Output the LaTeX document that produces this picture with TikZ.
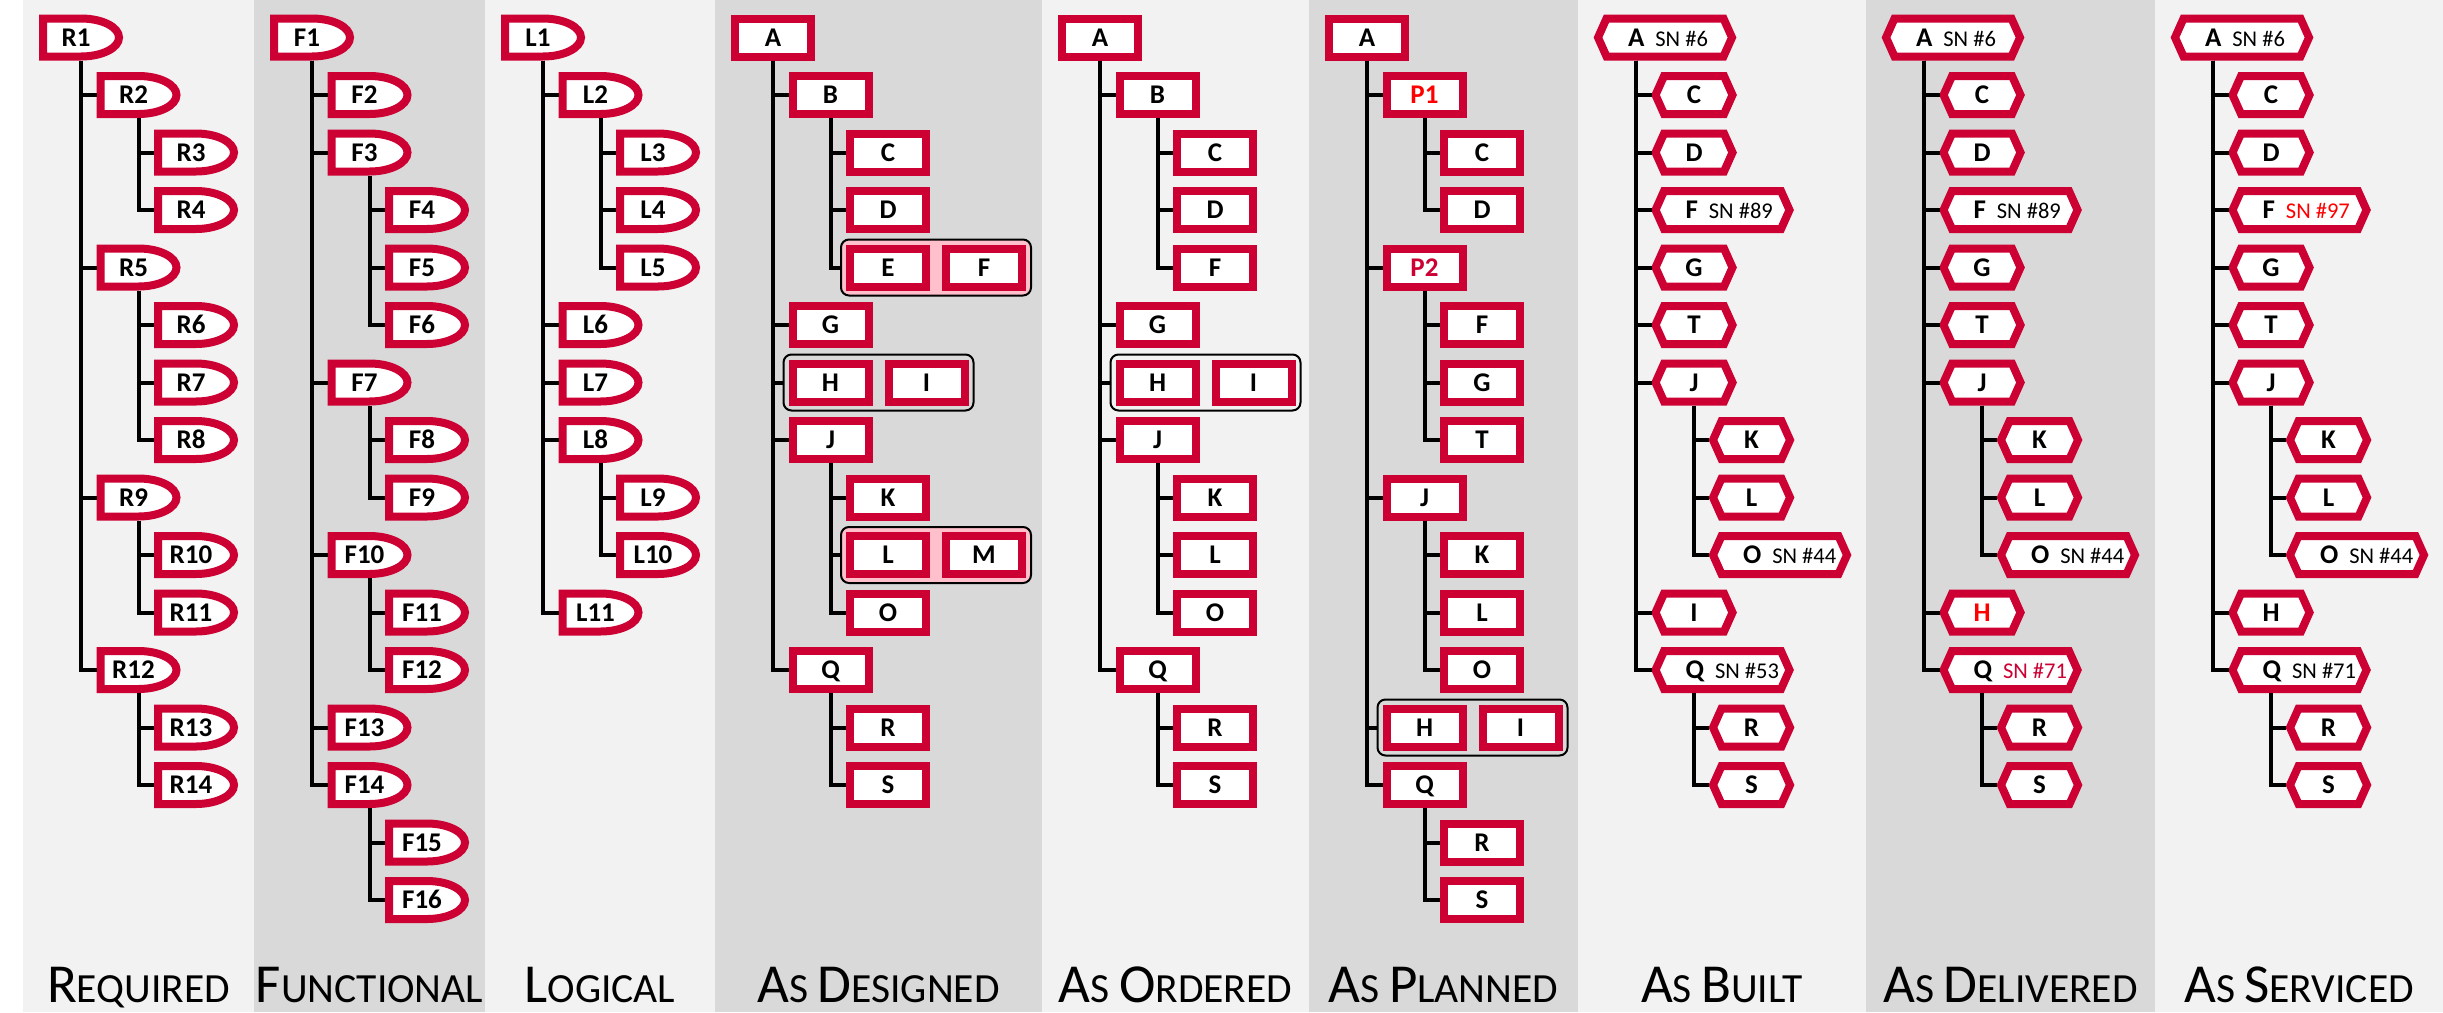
\documentclass[tikz,border=0pt]{standalone}
\usepackage{fontspec}
\setmainfont{Carlito}
\usetikzlibrary{fit,backgrounds}
\definecolor{crimson}{RGB}{204, 0, 51}
\definecolor{scarlet}{RGB}{255, 0, 0}
\definecolor{blush}{RGB}{255, 192, 203}
\definecolor{cloud}{RGB}{242, 242, 242}
\definecolor{smoke}{RGB}{217, 217, 217}

\makeatletter
% box with a flat left side and a half-oval right side
\pgfdeclareshape{halfoval}{%
  \inheritsavedanchors[from=rectangle]%
  \inheritanchorborder[from=rectangle]%
  \inheritanchor[from=rectangle]{center}%
  \inheritanchor[from=rectangle]{north}%
  \inheritanchor[from=rectangle]{south}%
  \inheritanchor[from=rectangle]{west}%
  \inheritanchor[from=rectangle]{east}%
  \inheritanchor[from=rectangle]{north west}%
  \inheritanchor[from=rectangle]{south west}%
  \inheritanchor[from=rectangle]{north east}%
  \inheritanchor[from=rectangle]{south east}%
  \inheritanchor[from=rectangle]{base}%
  \inheritanchor[from=rectangle]{mid}%
  \backgroundpath{%
    \southwest \pgf@xa=\pgf@x \pgf@ya=\pgf@y
    \northeast \pgf@xb=\pgf@x \pgf@yb=\pgf@y
    \pgfmathsetlength\pgf@xc{\pgfkeysvalueof{/pgf/outer xsep}}%
    \pgfmathsetlength\pgf@yc{\pgfkeysvalueof{/pgf/outer ysep}}%
    \advance\pgf@xa by\pgf@xc \advance\pgf@xb by-\pgf@xc
    \advance\pgf@ya by\pgf@yc \advance\pgf@yb by-\pgf@yc
    \edef\ovxa{\the\pgf@xa}\edef\ovya{\the\pgf@ya}\edef\ovyb{\the\pgf@yb}%
    \pgf@xc=.5\pgf@xb \advance\pgf@xc by .5\pgf@xa \edef\ovxm{\the\pgf@xc}%
    \pgf@xc=.5\pgf@xb \advance\pgf@xc by -.5\pgf@xa \edef\ovrx{\the\pgf@xc}%
    \pgf@yc=.5\pgf@yb \advance\pgf@yc by -.5\pgf@ya \edef\ovry{\the\pgf@yc}%
    \pgfpathmoveto{\pgfqpoint{\ovxa}{\ovya}}%
    \pgfpathlineto{\pgfqpoint{\ovxa}{\ovyb}}%
    \pgfpathlineto{\pgfqpoint{\ovxm}{\ovyb}}%
    \pgfpatharc{90}{-90}{\ovrx and \ovry}%
    \pgfpathclose
  }%
}
% box with pointed left and right ends
\pgfdeclareshape{sixside}{%
  \inheritsavedanchors[from=rectangle]%
  \inheritanchorborder[from=rectangle]%
  \inheritanchor[from=rectangle]{center}%
  \inheritanchor[from=rectangle]{north}%
  \inheritanchor[from=rectangle]{south}%
  \inheritanchor[from=rectangle]{west}%
  \inheritanchor[from=rectangle]{east}%
  \inheritanchor[from=rectangle]{north west}%
  \inheritanchor[from=rectangle]{south west}%
  \inheritanchor[from=rectangle]{north east}%
  \inheritanchor[from=rectangle]{south east}%
  \inheritanchor[from=rectangle]{base}%
  \inheritanchor[from=rectangle]{mid}%
  \backgroundpath{%
    \southwest \pgf@xa=\pgf@x \pgf@ya=\pgf@y
    \northeast \pgf@xb=\pgf@x \pgf@yb=\pgf@y
    \pgfmathsetlength\pgf@xc{\pgfkeysvalueof{/pgf/outer xsep}}%
    \pgfmathsetlength\pgf@yc{\pgfkeysvalueof{/pgf/outer ysep}}%
    \advance\pgf@xa by\pgf@xc \advance\pgf@xb by-\pgf@xc
    \advance\pgf@ya by\pgf@yc \advance\pgf@yb by-\pgf@yc
    \pgf@yc=.5\pgf@ya \advance\pgf@yc by .5\pgf@yb
    \edef\hxa{\the\pgf@xa}\edef\hxb{\the\pgf@xb}%
    \edef\hya{\the\pgf@ya}\edef\hyb{\the\pgf@yb}\edef\hym{\the\pgf@yc}%
    \advance\pgf@xa by 8.5pt \advance\pgf@xb by -8.5pt
    \edef\hxc{\the\pgf@xa}\edef\hxd{\the\pgf@xb}%
    \pgfpathmoveto{\pgfqpoint{\hxa}{\hym}}%
    \pgfpathlineto{\pgfqpoint{\hxc}{\hyb}}%
    \pgfpathlineto{\pgfqpoint{\hxd}{\hyb}}%
    \pgfpathlineto{\pgfqpoint{\hxb}{\hym}}%
    \pgfpathlineto{\pgfqpoint{\hxd}{\hya}}%
    \pgfpathlineto{\pgfqpoint{\hxc}{\hya}}%
    \pgfpathclose
  }%
}
\makeatother

\newcommand{\pdmfont}{\fontsize{27}{32}\selectfont\bfseries}
\newcommand{\capit}[1]{{\fontsize{55}{62}\selectfont #1}}
\newcommand{\serial}[3][black]{\makebox[74pt][l]{#2\hspace{11pt}{\fontsize{22.5}{26}\selectfont\mdseries\textcolor{#1}{SN \##3}}}}

\tikzset{
  block/.style={draw=crimson, fill=white, line width=8pt, outer sep=4pt, minimum width=76pt,
                minimum height=38pt, inner sep=0pt, text height=17pt, text depth=0pt,
                font=\pdmfont, anchor=west},
  tag/.style={block, shape=halfoval, execute at end node={\hspace{10pt}}},
  part/.style={block, shape=rectangle},
  unit/.style={block, shape=sixside, minimum width=77pt},
  tracked/.style={unit, minimum width=134pt},
  kit/.style={draw=black, line width=2pt, rounded corners=8pt, inner sep=5pt},
  wire/.style={line width=4pt},
  view/.style={anchor=base, inner sep=0pt, font=\fontsize{41.5}{50}\selectfont}
}

\begin{document}
\begin{tikzpicture}[x=1pt, y=-1pt]
  \useasboundingbox (0,0) rectangle (2443,1012);

  % required
  \node[tag] (r1)  at (39,37.5)    {R1};
  \node[tag] (r2)  at (96.5,95)    {R2};
  \node[tag] (r3)  at (154,152.5)  {R3};
  \node[tag] (r4)  at (154,210)    {R4};
  \node[tag] (r5)  at (96.5,267.5) {R5};
  \node[tag] (r6)  at (154,325)    {R6};
  \node[tag] (r7)  at (154,382.5)  {R7};
  \node[tag] (r8)  at (154,440)    {R8};
  \node[tag] (r9)  at (96.5,497.5) {R9};
  \node[tag] (r10) at (154,555)    {R10};
  \node[tag] (r11) at (154,612.5)  {R11};
  \node[tag] (r12) at (96.5,670)   {R12};
  \node[tag] (r13) at (154,727.5)  {R13};
  \node[tag] (r14) at (154,785)    {R14};

  % functional
  \node[tag] (f1)  at (270,37.5)    {F1};
  \node[tag] (f2)  at (327.5,95)    {F2};
  \node[tag] (f3)  at (327.5,152.5) {F3};
  \node[tag] (f4)  at (385,210)     {F4};
  \node[tag] (f5)  at (385,267.5)   {F5};
  \node[tag] (f6)  at (385,325)     {F6};
  \node[tag] (f7)  at (327.5,382.5) {F7};
  \node[tag] (f8)  at (385,440)     {F8};
  \node[tag] (f9)  at (385,497.5)   {F9};
  \node[tag] (f10) at (327.5,555)   {F10};
  \node[tag] (f11) at (385,612.5)   {F11};
  \node[tag] (f12) at (385,670)     {F12};
  \node[tag] (f13) at (327.5,727.5) {F13};
  \node[tag] (f14) at (327.5,785)   {F14};
  \node[tag] (f15) at (385,842.5)   {F15};
  \node[tag] (f16) at (385,900)     {F16};

  % logical
  \node[tag] (l1)  at (501,37.5)    {L1};
  \node[tag] (l2)  at (558.5,95)    {L2};
  \node[tag] (l3)  at (616,152.5)   {L3};
  \node[tag] (l4)  at (616,210)     {L4};
  \node[tag] (l5)  at (616,267.5)   {L5};
  \node[tag] (l6)  at (558.5,325)   {L6};
  \node[tag] (l7)  at (558.5,382.5) {L7};
  \node[tag] (l8)  at (558.5,440)   {L8};
  \node[tag] (l9)  at (616,497.5)   {L9};
  \node[tag] (l10) at (616,555)     {L10};
  \node[tag] (l11) at (558.5,612.5) {L11};

  % as designed
  \node[part] (dA) at (731,37.5)    {A};
  \node[part] (dB) at (788.5,95)    {B};
  \node[part] (dC) at (846,152.5)   {C};
  \node[part] (dD) at (846,210)     {D};
  \node[part] (dE) at (846,267.5)   {E};
  \node[part] (dF) at (942,267.5)   {F};
  \node[part] (dG) at (788.5,325)   {G};
  \node[part] (dH) at (788.5,382.5) {H};
  \node[part] (dI) at (884.5,382.5) {I};
  \node[part] (dJ) at (788.5,440)   {J};
  \node[part] (dK) at (846,497.5)   {K};
  \node[part] (dL) at (846,555)     {L};
  \node[part] (dM) at (942,555)     {M};
  \node[part] (dO) at (846,612.5)   {O};
  \node[part] (dQ) at (788.5,670)   {Q};
  \node[part] (dR) at (846,727.5)   {R};
  \node[part] (dS) at (846,785)     {S};

  % as ordered
  \node[part] (oA) at (1058,37.5)    {A};
  \node[part] (oB) at (1115.5,95)    {B};
  \node[part] (oC) at (1173,152.5)   {C};
  \node[part] (oD) at (1173,210)     {D};
  \node[part] (oF) at (1173,267.5)   {F};
  \node[part] (oG) at (1115.5,325)   {G};
  \node[part] (oH) at (1115.5,382.5) {H};
  \node[part] (oI) at (1211.5,382.5) {I};
  \node[part] (oJ) at (1115.5,440)   {J};
  \node[part] (oK) at (1173,497.5)   {K};
  \node[part] (oL) at (1173,555)     {L};
  \node[part] (oO) at (1173,612.5)   {O};
  \node[part] (oQ) at (1115.5,670)   {Q};
  \node[part] (oR) at (1173,727.5)   {R};
  \node[part] (oS) at (1173,785)     {S};

  % as planned
  \node[part] (pA)  at (1325,37.5)    {A};
  \node[part] (pP1) at (1382.5,95)    {\textcolor{scarlet}{P1}};
  \node[part] (pC)  at (1440,152.5)   {C};
  \node[part] (pD)  at (1440,210)     {D};
  \node[part] (pP2) at (1382.5,267.5) {\textcolor{crimson}{P2}};
  \node[part] (pF)  at (1440,325)     {F};
  \node[part] (pG)  at (1440,382.5)   {G};
  \node[part] (pT)  at (1440,440)     {T};
  \node[part] (pJ)  at (1382.5,497.5) {J};
  \node[part] (pK)  at (1440,555)     {K};
  \node[part] (pL)  at (1440,612.5)   {L};
  \node[part] (pO)  at (1440,670)     {O};
  \node[part] (pH)  at (1382.5,727.5) {H};
  \node[part] (pI)  at (1478.5,727.5) {I};
  \node[part] (pQ)  at (1382.5,785)   {Q};
  \node[part] (pR)  at (1440,842.5)   {R};
  \node[part] (pS)  at (1440,900)     {S};

  % as built
  \node[tracked] (bA) at (1594,37.5)    {\serial{A}{6}};
  \node[unit]    (bC) at (1651.5,95)    {C};
  \node[unit]    (bD) at (1651.5,152.5) {D};
  \node[tracked] (bF) at (1651.5,210)   {\serial{F}{89}};
  \node[unit]    (bG) at (1651.5,267.5) {G};
  \node[unit]    (bT) at (1651.5,325)   {T};
  \node[unit]    (bJ) at (1651.5,382.5) {J};
  \node[unit]    (bK) at (1709,440)     {K};
  \node[unit]    (bL) at (1709,497.5)   {L};
  \node[tracked] (bO) at (1709,555)     {\serial{O}{44}};
  \node[unit]    (bI) at (1651.5,612.5) {I};
  \node[tracked] (bQ) at (1651.5,670)   {\serial{Q}{53}};
  \node[unit]    (bR) at (1709,727.5)   {R};
  \node[unit]    (bS) at (1709,785)     {S};

  % as delivered
  \node[tracked] (vA) at (1882,37.5)    {\serial{A}{6}};
  \node[unit]    (vC) at (1939.5,95)    {C};
  \node[unit]    (vD) at (1939.5,152.5) {D};
  \node[tracked] (vF) at (1939.5,210)   {\serial{F}{89}};
  \node[unit]    (vG) at (1939.5,267.5) {G};
  \node[unit]    (vT) at (1939.5,325)   {T};
  \node[unit]    (vJ) at (1939.5,382.5) {J};
  \node[unit]    (vK) at (1997,440)     {K};
  \node[unit]    (vL) at (1997,497.5)   {L};
  \node[tracked] (vO) at (1997,555)     {\serial{O}{44}};
  \node[unit]    (vH) at (1939.5,612.5) {\textcolor{scarlet}{H}};
  \node[tracked] (vQ) at (1939.5,670)   {\serial[crimson]{Q}{71}};
  \node[unit]    (vR) at (1997,727.5)   {R};
  \node[unit]    (vS) at (1997,785)     {S};

  % as serviced
  \node[tracked] (sA) at (2171,37.5)    {\serial{A}{6}};
  \node[unit]    (sC) at (2228.5,95)    {C};
  \node[unit]    (sD) at (2228.5,152.5) {D};
  \node[tracked] (sF) at (2228.5,210)   {\serial[scarlet]{F}{97}};
  \node[unit]    (sG) at (2228.5,267.5) {G};
  \node[unit]    (sT) at (2228.5,325)   {T};
  \node[unit]    (sJ) at (2228.5,382.5) {J};
  \node[unit]    (sK) at (2286,440)     {K};
  \node[unit]    (sL) at (2286,497.5)   {L};
  \node[tracked] (sO) at (2286,555)     {\serial{O}{44}};
  \node[unit]    (sH) at (2228.5,612.5) {H};
  \node[tracked] (sQ) at (2228.5,670)   {\serial{Q}{71}};
  \node[unit]    (sR) at (2286,727.5)   {R};
  \node[unit]    (sS) at (2286,785)     {S};

  \begin{scope}[on background layer]
    \fill[white] (0,0)    rectangle (2443,1012);
    \fill[cloud] (23,0)   rectangle (254,1012);
    \fill[smoke] (254,0)  rectangle (485,1012);
    \fill[cloud] (485,0)  rectangle (715,1012);
    \fill[smoke] (715,0)  rectangle (1042,1012);
    \fill[cloud] (1042,0) rectangle (1309,1012);
    \fill[smoke] (1309,0) rectangle (1578,1012);
    \fill[cloud] (1578,0) rectangle (1866,1012);
    \fill[smoke] (1866,0) rectangle (2155,1012);
    \fill[cloud] (2155,0) rectangle (2443,1012);
    % assemblies
    \node[kit, fill=blush, fit=(dE)(dF)] (dEF) {};
    \node[kit, fit=(dH)(dI)]             (dHI) {};
    \node[kit, fill=blush, fit=(dL)(dM)] (dLM) {};
    \node[kit, fit=(oH)(oI)]             (oHI) {};
    \node[kit, fit=(pH)(pI)]             (pHI) {};
  \end{scope}

  % tree lines
  \foreach \up/\down in {r1/r2, r1/r5, r1/r9, r1/r12, r2/r3, r2/r4, r5/r6, r5/r7, r5/r8,
      r9/r10, r9/r11, r12/r13, r12/r14,
      f1/f2, f1/f3, f1/f7, f1/f10, f1/f13, f1/f14, f3/f4, f3/f5, f3/f6, f7/f8, f7/f9,
      f10/f11, f10/f12, f14/f15, f14/f16,
      l1/l2, l1/l6, l1/l7, l1/l8, l1/l11, l2/l3, l2/l4, l2/l5, l8/l9, l8/l10,
      dA/dB, dA/dG, dA/dHI, dA/dJ, dA/dQ, dB/dC, dB/dD, dB/dEF, dJ/dK, dJ/dLM, dJ/dO,
      dQ/dR, dQ/dS,
      oA/oB, oA/oG, oA/oHI, oA/oJ, oA/oQ, oB/oC, oB/oD, oB/oF, oJ/oK, oJ/oL, oJ/oO,
      oQ/oR, oQ/oS,
      pA/pP1, pA/pP2, pA/pJ, pA/pHI, pA/pQ, pP1/pC, pP1/pD, pP2/pF, pP2/pG, pP2/pT,
      pJ/pK, pJ/pL, pJ/pO, pQ/pR, pQ/pS,
      bA/bC, bA/bD, bA/bF, bA/bG, bA/bT, bA/bJ, bA/bI, bA/bQ, bJ/bK, bJ/bL, bJ/bO,
      bQ/bR, bQ/bS,
      vA/vC, vA/vD, vA/vF, vA/vG, vA/vT, vA/vJ, vA/vH, vA/vQ, vJ/vK, vJ/vL, vJ/vO,
      vQ/vR, vQ/vS,
      sA/sC, sA/sD, sA/sF, sA/sG, sA/sT, sA/sJ, sA/sH, sA/sQ, sJ/sK, sJ/sL, sJ/sO,
      sQ/sR, sQ/sS}
    \draw[wire] ([xshift=42pt]\up.south west) |- (\down.west);

  % view names
  \node[view] (req) at (138.5,1002)  {\capit{R}EQUIRED};
  \node[view] (fun) at (369.5,1002)  {\capit{F}UNCTIONAL};
  \node[view] (log) at (600,1002)    {\capit{L}OGICAL};
  \node[view] (des) at (878.5,1002)  {\capit{A}S \capit{D}ESIGNED};
  \node[view] (ord) at (1175.5,1002) {\capit{A}S \capit{O}RDERED};
  \node[view] (pla) at (1443.5,1002) {\capit{A}S \capit{P}LANNED};
  \node[view] (blt) at (1722,1002)   {\capit{A}S \capit{B}UILT};
  \node[view] (del) at (2010.5,1002) {\capit{A}S \capit{D}ELIVERED};
  \node[view] (ser) at (2299,1002)   {\capit{A}S \capit{S}ERVICED};
\end{tikzpicture}
\end{document}
